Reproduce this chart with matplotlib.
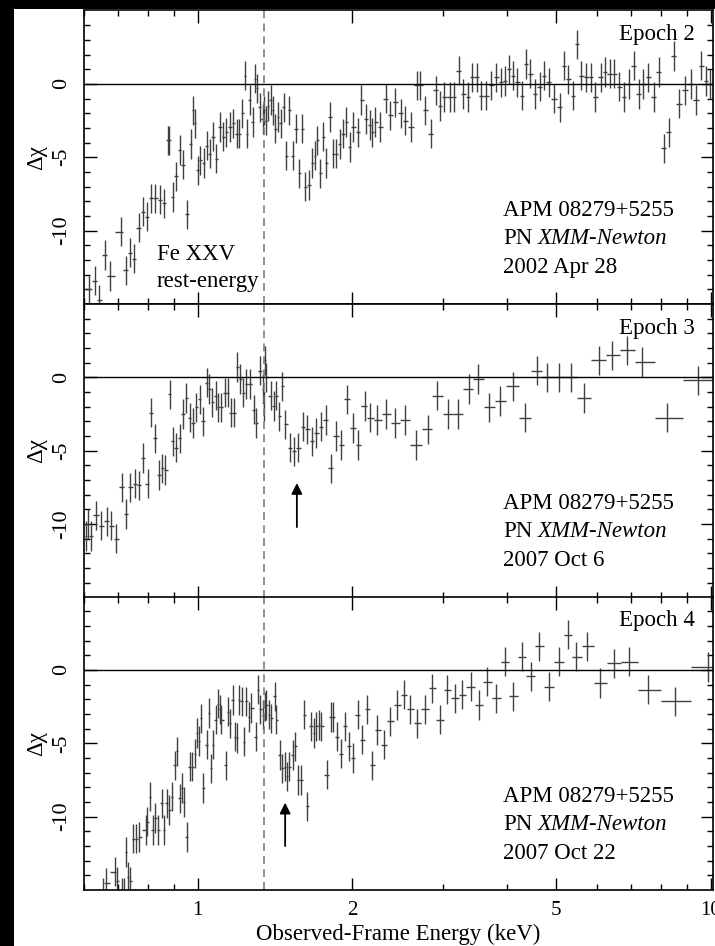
"""Residuals of APM 08279+5255 (XMM-Newton PN) for three epochs."""

import matplotlib.pyplot as plt
import numpy as np
from matplotlib.patches import Rectangle
from matplotlib.ticker import FixedLocator, NullFormatter

plt.rcParams["font.family"] = ["Liberation Serif", "DejaVu Serif"]
plt.rcParams["axes.unicode_minus"] = False

# ---- data (observed-frame energy in keV, delta chi) ----
epoch2_energy = [
    0.614, 0.630, 0.642, 0.659, 0.674, 0.707, 0.724, 0.737, 0.750, 0.768,
    0.782, 0.797, 0.812, 0.827, 0.843, 0.858, 0.873, 0.879, 0.893, 0.906,
    0.922, 0.936, 0.953, 0.968, 0.979, 0.987, 1.001, 1.012, 1.027, 1.043,
    1.055, 1.071, 1.087, 1.104, 1.121, 1.137, 1.155, 1.172, 1.190, 1.204,
    1.222, 1.237, 1.248, 1.263, 1.282, 1.294, 1.305, 1.321, 1.337, 1.347,
    1.357, 1.371, 1.386, 1.402, 1.417, 1.434, 1.451, 1.471, 1.489, 1.507,
    1.530, 1.557, 1.576, 1.597, 1.619, 1.648, 1.673, 1.691, 1.711, 1.734,
    1.755, 1.781, 1.809, 1.836, 1.863, 1.891, 1.920, 1.949, 1.978, 2.009,
    2.054, 2.084, 2.132, 2.164, 2.187, 2.220, 2.263, 2.325, 2.374, 2.428,
    2.484, 2.540, 2.609, 2.669, 2.716, 2.778, 2.846, 2.910, 2.972, 3.021,
    3.099, 3.160, 3.227, 3.290, 3.365, 3.425, 3.498, 3.572, 3.653, 3.736,
    3.821, 3.896, 3.967, 4.039, 4.119, 4.193, 4.288, 4.372, 4.451, 4.539,
    4.642, 4.733, 4.833, 4.950, 5.078, 5.178, 5.272, 5.390, 5.496, 5.595,
    5.722, 5.835, 5.958, 6.104, 6.214, 6.355, 6.480, 6.627, 6.778, 6.921,
    7.078, 7.239, 7.381, 7.548, 7.743, 7.919, 8.110, 8.282, 8.483, 8.663,
    8.899, 9.141, 9.350, 9.590, 9.808, 9.956,
]
epoch2_dchi = [
    -14.0, -13.4, -14.7, -11.65, -13.1, -10.07, -12.7, -11.5, -11.9, -9.8,
    -8.7, -9.05, -7.8, -7.8, -7.9, -8.15, -3.85, -3.85, -7.7, -6.3,
    -4.5, -5.5, -8.9, -4.1, -1.8, -2.7, -5.9, -5.2, -5.4, -4.2,
    -4.75, -3.6, -5.1, -2.95, -3.6, -3.3, -2.95, -2.7, -3.4, -3.4,
    -2.0, 0.57, -3.4, -1.1, -2.6, 0.35, -0.3, -1.6, -2.4, -1.8,
    -2.5, -1.5, -1.1, -1.8, -3.05, -2.25, -2.7, -1.6, -4.9, -1.8,
    -4.9, -3.05, -6.1, -3.05, -7.0, -6.9, -5.4, -4.9, -3.85, -6.1,
    -3.6, -5.4, -2.25, -4.75, -4.75, -4.1, -3.4, -2.6, -4.3, -2.95,
    -3.3, -1.1, -2.4, -2.8, -3.3, -2.6, -2.95, -1.0, -2.15, -1.25,
    -2.0, -2.5, -2.95, -0.1, -0.1, -1.8, -3.4, -0.45, -1.5, -0.9,
    -0.9, -0.9, 0.9, -0.7, -0.9, 0.45, 0.45, -0.8, -0.8, -0.1,
    0.45, 0.1, 0.2, 1.0, 0.55, 0.1, -0.8, 1.35, 0.7, -0.7,
    -0.2, 0.55, 0.1, -1.0, -1.6, 1.25, 0.3, -0.8, 2.7, 0.55,
    0.45, 0.45, -0.9, 0.45, 0.8, 0.7, 0.7, -0.2, -0.9, 0.0,
    1.25, -0.7, 0.0, 0.45, -0.9, 0.8, -4.4, -3.3, 1.9, -1.35,
    -0.45, 0.0, -1.1, 1.25, 0.2, 0.0,
]

epoch3_energy = [
    0.605, 0.611, 0.618, 0.634, 0.649, 0.664, 0.677, 0.694, 0.710, 0.724,
    0.739, 0.754, 0.768, 0.782, 0.798, 0.812, 0.824, 0.839, 0.853, 0.865,
    0.882, 0.893, 0.906, 0.922, 0.936, 0.950, 0.965, 0.979, 0.994, 1.009,
    1.024, 1.040, 1.052, 1.068, 1.083, 1.095, 1.112, 1.129, 1.143, 1.160,
    1.177, 1.195, 1.211, 1.226, 1.244, 1.263, 1.286, 1.301, 1.325, 1.341,
    1.351, 1.343, 1.361, 1.386, 1.406, 1.423, 1.440, 1.462, 1.482, 1.511,
    1.541, 1.569, 1.604, 1.633, 1.673, 1.703, 1.742, 1.774, 1.817, 1.858,
    1.905, 1.957, 2.009, 2.054, 2.116, 2.164, 2.240, 2.325, 2.428, 2.532,
    2.661, 2.804, 2.932, 3.076, 3.218, 3.375, 3.520, 3.698, 3.890, 4.107,
    4.340, 4.580, 4.804, 5.055, 5.334, 5.663, 6.049, 6.431, 6.879, 7.359,
    8.233, 9.447,
]
epoch3_dchi = [
    -10.8, -10.0, -10.8, -9.4, -10.1, -9.8, -10.1, -11.0, -7.5, -9.3,
    -7.5, -7.25, -7.35, -5.5, -7.25, -2.4, -4.15, -6.65, -6.2, -6.3,
    -1.15, -4.35, -4.8, -4.15, -2.5, -1.4, -2.75, -3.1, -2.05, -1.5,
    -3.0, -0.35, -0.8, -1.7, -1.25, -2.05, -2.05, -1.05, -1.05, -2.4,
    -2.4, 0.7, -0.1, -1.05, -0.45, -0.45, -2.2, -3.1, 0.45, -0.8,
    1.15, -1.95, 0.0, -1.25, -1.95, -1.25, -2.65, -0.6, -3.2, -4.8,
    -5.05, -4.8, -3.35, -3.55, -4.35, -3.8, -3.35, -2.9, -6.2, -4.0,
    -4.6, -1.5, -3.45, -4.6, -1.95, -2.75, -2.9, -2.5, -3.1, -2.9,
    -4.6, -3.55, -1.25, -2.5, -2.5, -0.8, -0.1, -2.05, -1.6, -0.6,
    -2.75, 0.45, 0.0, 0.0, 0.0, -1.4, 1.15, 1.5, 1.85, 1.05,
    -2.75, -0.2,
]

epoch4_energy = [
    0.652, 0.662, 0.689, 0.696, 0.710, 0.717, 0.726, 0.731, 0.739, 0.748,
    0.759, 0.768, 0.791, 0.797, 0.806, 0.818, 0.827, 0.837, 0.850, 0.858,
    0.869, 0.879, 0.891, 0.902, 0.909, 0.922, 0.931, 0.939, 0.953, 0.965,
    0.976, 0.987, 0.997, 1.004, 1.014, 1.024, 1.040, 1.052, 1.060, 1.071,
    1.084, 1.095, 1.104, 1.112, 1.134, 1.146, 1.155, 1.169, 1.181, 1.195,
    1.204, 1.217, 1.231, 1.244, 1.259, 1.272, 1.297, 1.311, 1.325, 1.337,
    1.351, 1.361, 1.378, 1.392, 1.413, 1.423, 1.445, 1.462, 1.477, 1.493,
    1.507, 1.530, 1.546, 1.569, 1.592, 1.609, 1.636, 1.665, 1.686, 1.703,
    1.722, 1.742, 1.789, 1.817, 1.836, 1.872, 1.900, 1.934, 1.972, 2.009,
    2.048, 2.091, 2.138, 2.187, 2.240, 2.304, 2.374, 2.450, 2.525, 2.597,
    2.680, 2.769, 2.867, 2.963, 3.067, 3.170, 3.276, 3.401, 3.530, 3.664,
    3.821, 3.967, 4.119, 4.288, 4.458, 4.628, 4.833, 5.063, 5.272, 5.471,
    5.741, 6.094, 6.470, 6.921, 7.548, 8.509, 9.881,
]
epoch4_dchi = [
    -15.2, -14.5, -13.75, -14.4, -15.2, -15.2, -12.4, -14.1, -14.4, -11.5,
    -11.5, -11.4, -10.9, -10.35, -8.65, -10.9, -10.1, -10.9, -9.1, -10.9,
    -9.1, -9.55, -8.65, -6.5, -5.55, -8.75, -8.05, -9.0, -11.4, -6.6,
    -6.6, -5.7, -4.3, -4.85, -3.3, -8.05, -5.1, -2.95, -6.7, -5.1,
    -3.4, -2.3, -2.7, -3.4, -6.5, -2.85, -3.65, -2.05, -4.55, -4.65,
    -2.05, -2.15, -4.9, -2.15, -3.2, -2.6, -4.55, -1.35, -2.7, -3.05,
    -2.5, -2.4, -3.05, -3.3, -1.8, -3.4, -5.8, -6.7, -6.6, -7.25,
    -6.6, -5.8, -5.2, -7.5, -7.5, -3.05, -9.3, -3.85, -4.3, -3.85,
    -3.75, -3.85, -7.15, -3.2, -3.2, -4.55, -5.7, -3.85, -5.2, -6.0,
    -3.05, -4.75, -2.7, -6.5, -4.1, -5.1, -3.5, -2.4, -1.7, -2.7,
    -3.65, -2.7, -1.25, -3.4, -1.35, -1.95, -1.7, -1.15, -2.4, -0.8,
    -1.95, 0.55, -1.8, 0.9, -0.45, 1.6, -1.15, 0.55, 2.4, 0.9,
    1.6, -0.9, 0.45, 0.55, -1.35, -2.15, 0.2,
]
dchi_err = 1.0

epoch_names = ["Epoch 2", "Epoch 3", "Epoch 4"]
obs_dates = ["2002 Apr 28", "2007 Oct 6", "2007 Oct 22"]

fe_xxv_energy = 1.345
# (energy, tail, head) of the absorption arrows, None for no arrow
arrows = [None, (1.56, -10.2, -7.2), (1.48, -12.0, -9.05)]

x_major = [1, 2, 5, 10]
x_minor = [0.6, 0.7, 0.8, 0.9, 3, 4, 6, 7, 8, 9]
y_major = [-10, -5, 0]
y_minor = [-14, -13, -12, -11, -9, -8, -7, -6, -4, -3, -2, -1, 1, 2, 3, 4]


def bin_half_widths(energy):
    """Half widths of contiguous energy bins (geometric mid-points)."""
    e = np.asarray(energy)
    order = np.argsort(e)
    s = e[order]
    mids = np.sqrt(s[1:] * s[:-1])
    lo = np.empty_like(s)
    hi = np.empty_like(s)
    lo[1:] = s[1:] - mids
    hi[:-1] = mids - s[:-1]
    lo[0] = s[0] - s[0] ** 2 / mids[0]
    hi[-1] = s[-1] ** 2 / mids[-1] - s[-1]
    out_lo = np.empty_like(s)
    out_hi = np.empty_like(s)
    out_lo[order] = lo
    out_hi[order] = hi
    return np.vstack([out_lo, out_hi])


def draw_panel(ax, energy, dchi, name, date, arrow, bottom=False):
    ax.errorbar(energy, dchi, xerr=bin_half_widths(energy), yerr=dchi_err,
                fmt="none", ecolor="0.25", elinewidth=1.0, capsize=0)
    ax.axhline(0, color="black", lw=1.0)
    ax.axvline(fe_xxv_energy, color="0.45", lw=1.1, ls=(0, (5.2, 3.3)))

    ax.set_xscale("log")
    ax.set_xlim(0.6, 10.1)
    ax.set_ylim(-15, 5)
    ax.xaxis.set_major_locator(FixedLocator(x_major))
    ax.xaxis.set_minor_locator(FixedLocator(x_minor))
    ax.xaxis.set_minor_formatter(NullFormatter())
    if bottom:
        ax.set_xticklabels([str(v) for v in x_major])
        ax.set_xlabel("Observed-Frame Energy (keV)", fontsize=16.5, labelpad=2.5)
    else:
        ax.xaxis.set_major_formatter(NullFormatter())
    ax.yaxis.set_major_locator(FixedLocator(y_major))
    ax.yaxis.set_minor_locator(FixedLocator(y_minor))
    ax.set_yticklabels([str(v) for v in y_major])

    ax.tick_params(which="both", direction="in", top=True, right=True,
                   width=1.0)
    ax.tick_params(which="major", length=9)
    ax.tick_params(which="minor", length=4.5)
    ax.tick_params(axis="y", labelrotation=90, pad=9, labelsize=16)
    ax.tick_params(axis="x", pad=8, labelsize=15)
    for lab in ax.get_yticklabels():
        lab.set_va("center")
    for sp in ax.spines.values():
        sp.set_linewidth(1.2)

    ax.set_ylabel("\u0394\u03c7", fontsize=16.5, labelpad=4)

    ax.text(0.971, 0.918, name, transform=ax.transAxes, ha="right",
            va="center", fontsize=16.5)
    ax.text(0.666, 0.32, "APM 08279+5255", transform=ax.transAxes,
            ha="left", va="center", fontsize=16.5)
    pn = ax.text(0.666, 0.224, "PN", transform=ax.transAxes,
                 ha="left", va="center", fontsize=16.5)
    ax.annotate("XMM-Newton", xy=(1, 0), xycoords=pn, xytext=(4.2, 0),
                textcoords="offset points", ha="left", va="bottom",
                fontsize=16.5, fontstyle="italic")
    ax.text(0.666, 0.126, date, transform=ax.transAxes, ha="left",
            va="center", fontsize=16.5)

    if arrow is not None:
        e, tail, head = arrow
        ax.annotate("", xy=(e, head), xytext=(e, tail),
                    arrowprops=dict(arrowstyle="-|>", color="black", lw=1.3,
                                    mutation_scale=16, shrinkA=0, shrinkB=0))


fig = plt.figure(figsize=(7.15, 9.46), dpi=100, facecolor="black")
fig.patches.append(Rectangle((14 / 715, 0), 1, 1 - 9 / 946, transform=fig.transFigure,
                             facecolor="white", edgecolor="none", zorder=-10))

left, width = 84 / 715, 629 / 715
height = 293.5 / 946
bottoms = [1 - 304 / 946, 1 - 597.5 / 946, 1 - 890 / 946]
series = [
    (epoch2_energy, epoch2_dchi),
    (epoch3_energy, epoch3_dchi),
    (epoch4_energy, epoch4_dchi),
]

for i, (energy, dchi) in enumerate(series):
    ax = fig.add_axes([left, bottoms[i], width, height])
    draw_panel(ax, energy, dchi, epoch_names[i], obs_dates[i], arrows[i],
               bottom=(i == 2))
    if i == 0:
        ax.text(0.116, 0.17, "Fe XXV", transform=ax.transAxes, ha="left",
                va="center", fontsize=16.5)
        ax.text(0.116, 0.075, "rest-energy", transform=ax.transAxes,
                ha="left", va="center", fontsize=16.5)

fig.savefig("out.png", dpi=100, facecolor=fig.get_facecolor())
